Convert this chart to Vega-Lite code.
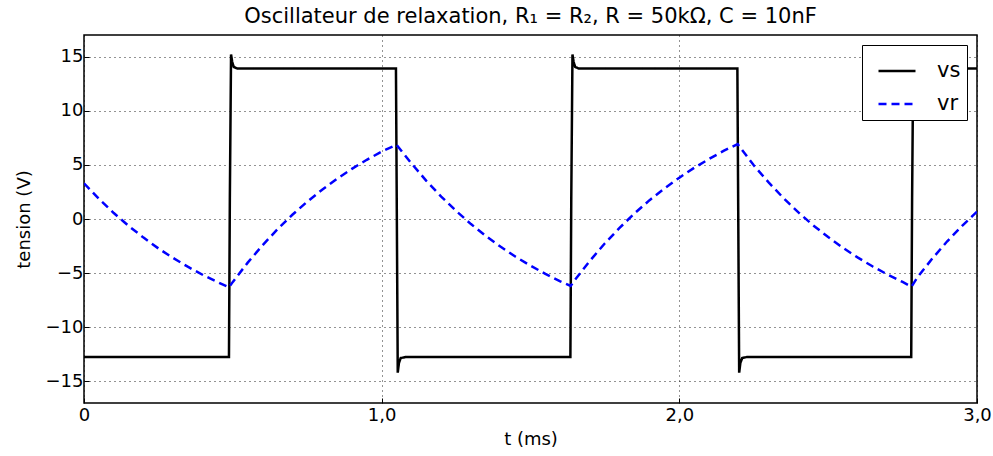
{
  "$schema": "https://vega.github.io/schema/vega-lite/v6.json",
  "autosize": "none",
  "width": 893,
  "height": 368,
  "padding": {"left": 84, "top": 35, "right": 16, "bottom": 53},
  "background": "white",
  "title": {
    "text": "Oscillateur de relaxation, R₁ = R₂, R = 50kΩ, C = 10nF",
    "font": "DejaVu Sans",
    "fontSize": 21,
    "fontWeight": "normal",
    "color": "black",
    "anchor": "middle",
    "offset": 8
  },
  "config": {
    "view": {"stroke": "black", "strokeWidth": 1.5},
    "axis": {
      "labelFont": "DejaVu Sans",
      "labelFontSize": 18,
      "labelColor": "black",
      "labelFlush": false,
      "titleFont": "DejaVu Sans",
      "titleFontSize": 18,
      "titleFontWeight": "normal",
      "titleColor": "black",
      "grid": true,
      "gridColor": "black",
      "gridDash": [1, 4],
      "gridWidth": 1,
      "gridOpacity": 0.85,
      "domain": false,
      "tickColor": "black",
      "tickSize": -5,
      "tickWidth": 1
    },
    "legend": {
      "title": null,
      "orient": "top-right",
      "offset": 10,
      "strokeColor": "black",
      "fillColor": "white",
      "padding": 6,
      "symbolOffset": 9,
      "labelFont": "DejaVu Sans",
      "labelFontSize": 21,
      "labelColor": "black",
      "symbolType": "stroke",
      "symbolSize": 1369,
      "symbolStrokeWidth": 2.5,
      "rowPadding": 3,
      "labelOffset": 20
    }
  },
  "data": {
    "values": [
      {"t": 0, "v": -12.75, "s": "vs"},
      {"t": 0.487, "v": -12.75, "s": "vs"},
      {"t": 0.490, "v": 2, "s": "vs"},
      {"t": 0.494, "v": 15.2, "s": "vs"},
      {"t": 0.498, "v": 14.5, "s": "vs"},
      {"t": 0.503, "v": 14.05, "s": "vs"},
      {"t": 0.515, "v": 13.9, "s": "vs"},
      {"t": 1.048, "v": 13.9, "s": "vs"},
      {"t": 1.051, "v": 0, "s": "vs"},
      {"t": 1.054, "v": -14.2, "s": "vs"},
      {"t": 1.058, "v": -13.3, "s": "vs"},
      {"t": 1.064, "v": -12.85, "s": "vs"},
      {"t": 1.08, "v": -12.75, "s": "vs"},
      {"t": 1.634, "v": -12.75, "s": "vs"},
      {"t": 1.637, "v": 2, "s": "vs"},
      {"t": 1.641, "v": 15.2, "s": "vs"},
      {"t": 1.645, "v": 14.5, "s": "vs"},
      {"t": 1.650, "v": 14.05, "s": "vs"},
      {"t": 1.662, "v": 13.9, "s": "vs"},
      {"t": 2.195, "v": 13.9, "s": "vs"},
      {"t": 2.198, "v": 0, "s": "vs"},
      {"t": 2.201, "v": -14.2, "s": "vs"},
      {"t": 2.205, "v": -13.3, "s": "vs"},
      {"t": 2.211, "v": -12.85, "s": "vs"},
      {"t": 2.227, "v": -12.75, "s": "vs"},
      {"t": 2.779, "v": -12.75, "s": "vs"},
      {"t": 2.782, "v": 2, "s": "vs"},
      {"t": 2.786, "v": 15.2, "s": "vs"},
      {"t": 2.790, "v": 14.5, "s": "vs"},
      {"t": 2.795, "v": 14.05, "s": "vs"},
      {"t": 2.807, "v": 13.9, "s": "vs"},
      {"t": 3.0, "v": 13.9, "s": "vs"},

      {"t": 0, "v": 3.3, "s": "vr"},
      {"t": 0.05, "v": 1.86, "s": "vr"},
      {"t": 0.1, "v": 0.55, "s": "vr"},
      {"t": 0.15, "v": -0.64, "s": "vr"},
      {"t": 0.2, "v": -1.72, "s": "vr"},
      {"t": 0.25, "v": -2.72, "s": "vr"},
      {"t": 0.3, "v": -3.61, "s": "vr"},
      {"t": 0.35, "v": -4.43, "s": "vr"},
      {"t": 0.4, "v": -5.18, "s": "vr"},
      {"t": 0.45, "v": -5.85, "s": "vr"},
      {"t": 0.487, "v": -6.32, "s": "vr"},
      {"t": 0.5, "v": -5.81, "s": "vr"},
      {"t": 0.55, "v": -4.03, "s": "vr"},
      {"t": 0.6, "v": -2.42, "s": "vr"},
      {"t": 0.65, "v": -0.95, "s": "vr"},
      {"t": 0.7, "v": 0.39, "s": "vr"},
      {"t": 0.75, "v": 1.6, "s": "vr"},
      {"t": 0.8, "v": 2.71, "s": "vr"},
      {"t": 0.85, "v": 3.72, "s": "vr"},
      {"t": 0.9, "v": 4.63, "s": "vr"},
      {"t": 0.95, "v": 5.47, "s": "vr"},
      {"t": 1.0, "v": 6.23, "s": "vr"},
      {"t": 1.05, "v": 6.85, "s": "vr"},
      {"t": 1.1, "v": 5.14, "s": "vr"},
      {"t": 1.15, "v": 3.53, "s": "vr"},
      {"t": 1.2, "v": 2.07, "s": "vr"},
      {"t": 1.25, "v": 0.75, "s": "vr"},
      {"t": 1.3, "v": -0.47, "s": "vr"},
      {"t": 1.35, "v": -1.57, "s": "vr"},
      {"t": 1.4, "v": -2.57, "s": "vr"},
      {"t": 1.45, "v": -3.49, "s": "vr"},
      {"t": 1.5, "v": -4.31, "s": "vr"},
      {"t": 1.55, "v": -5.07, "s": "vr"},
      {"t": 1.6, "v": -5.76, "s": "vr"},
      {"t": 1.635, "v": -6.19, "s": "vr"},
      {"t": 1.65, "v": -5.6, "s": "vr"},
      {"t": 1.7, "v": -3.85, "s": "vr"},
      {"t": 1.75, "v": -2.24, "s": "vr"},
      {"t": 1.8, "v": -0.8, "s": "vr"},
      {"t": 1.85, "v": 0.53, "s": "vr"},
      {"t": 1.9, "v": 1.74, "s": "vr"},
      {"t": 1.95, "v": 2.82, "s": "vr"},
      {"t": 2.0, "v": 3.82, "s": "vr"},
      {"t": 2.05, "v": 4.73, "s": "vr"},
      {"t": 2.1, "v": 5.55, "s": "vr"},
      {"t": 2.15, "v": 6.31, "s": "vr"},
      {"t": 2.196, "v": 6.92, "s": "vr"},
      {"t": 2.25, "v": 4.96, "s": "vr"},
      {"t": 2.3, "v": 3.38, "s": "vr"},
      {"t": 2.35, "v": 1.93, "s": "vr"},
      {"t": 2.4, "v": 0.61, "s": "vr"},
      {"t": 2.45, "v": -0.59, "s": "vr"},
      {"t": 2.5, "v": -1.67, "s": "vr"},
      {"t": 2.55, "v": -2.67, "s": "vr"},
      {"t": 2.6, "v": -3.57, "s": "vr"},
      {"t": 2.65, "v": -4.39, "s": "vr"},
      {"t": 2.7, "v": -5.14, "s": "vr"},
      {"t": 2.75, "v": -5.82, "s": "vr"},
      {"t": 2.78, "v": -6.25, "s": "vr"},
      {"t": 2.8, "v": -5.38, "s": "vr"},
      {"t": 2.85, "v": -3.65, "s": "vr"},
      {"t": 2.9, "v": -2.06, "s": "vr"},
      {"t": 2.95, "v": -0.63, "s": "vr"},
      {"t": 3.0, "v": 0.68, "s": "vr"}
    ]
  },
  "mark": {"type": "line", "strokeWidth": 2.5, "clip": true},
  "encoding": {
    "x": {
      "field": "t",
      "type": "quantitative",
      "scale": {"domain": [0, 3], "nice": false, "zero": false},
      "axis": {
        "title": "t (ms)",
        "values": [0, 1, 2, 3],
        "labelExpr": "datum.value == 0 ? '0' : replace(format(datum.value, '.1f'), '.', ',')",
        "labelPadding": 8,
        "titlePadding": 6
      }
    },
    "y": {
      "field": "v",
      "type": "quantitative",
      "scale": {"domain": [-17, 17], "nice": false, "zero": false},
      "axis": {
        "title": "tension (V)",
        "values": [-15, -10, -5, 0, 5, 10, 15],
        "labelPadding": 6,
        "titlePadding": 12
      }
    },
    "color": {
      "field": "s",
      "type": "nominal",
      "scale": {"domain": ["vs", "vr"], "range": ["black", "#0000ff"]},
      "legend": {"title": null}
    },
    "strokeDash": {
      "field": "s",
      "type": "nominal",
      "scale": {"domain": ["vs", "vr"], "range": [[1, 0], [8, 5]]},
      "legend": {"title": null}
    }
  }
}
